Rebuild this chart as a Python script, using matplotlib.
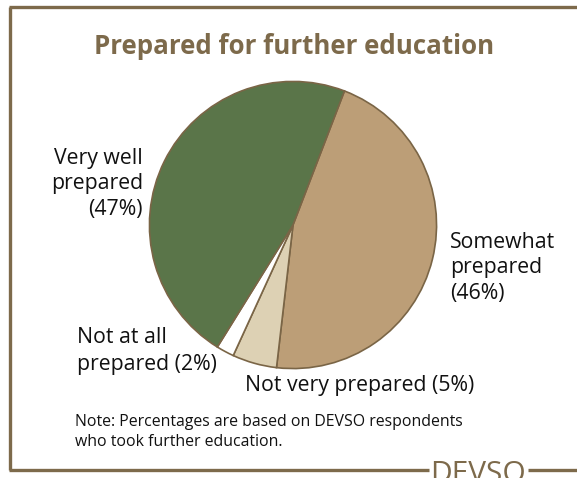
import matplotlib
matplotlib.use('Agg')
import matplotlib.pyplot as plt
from matplotlib.lines import Line2D

W, H = 577, 478

categories = ['Somewhat prepared', 'Not very prepared', 'Not at all prepared', 'Very well prepared']
shares = [46, 5, 2, 47]
slice_colors = ['#bc9e77', '#ddd1b4', '#ffffff', '#5a7549']

BROWN = '#7d6a4b'
EDGE = '#7a6546'
TEXT = '#111111'

plt.rcParams['font.family'] = ['Open Sans', 'DejaVu Sans']


def px(x, y):
    """pixel position (from top-left) -> figure fraction"""
    return x / W, 1 - y / H


fig = plt.figure(figsize=(W / 100, H / 100), dpi=100, facecolor='white')

# pie, centred around (293, 225) px with radius 145 px
cx, cy, r = 293, 225, 145
ax = fig.add_axes([(cx - r) / W, 1 - (cy + r) / H, 2 * r / W, 2 * r / H])
ax.pie(shares, colors=slice_colors, startangle=69, counterclock=False,
       wedgeprops=dict(edgecolor=EDGE, linewidth=1.2))
ax.set_xlim(-1.01, 1.01)
ax.set_ylim(-1.01, 1.01)
ax.set_aspect('equal')
ax.axis('off')

# frame: left, top, bottom split by the logo
lw = 2.4
yb = 470
fig.add_artist(Line2D([px(10, 0)[0], px(10, 0)[0]], [px(0, 7)[1], px(0, yb)[1]],
                      color=BROWN, lw=lw, solid_capstyle='butt'))
fig.add_artist(Line2D([px(9, 0)[0], 1.0], [px(0, 7)[1]] * 2,
                      color=BROWN, lw=lw, solid_capstyle='butt'))
fig.add_artist(Line2D([px(9, 0)[0], px(429, 0)[0]], [px(0, yb)[1]] * 2,
                      color=BROWN, lw=lw, solid_capstyle='butt'))
fig.add_artist(Line2D([px(528, 0)[0], 1.0], [px(0, yb)[1]] * 2,
                      color=BROWN, lw=lw, solid_capstyle='butt'))
fig.text(*px(478, 482), 'DEVSO', color=BROWN, fontsize=21.5,
         ha='center', va='baseline')

fig.text(*px(294, 46), 'Prepared for further education', color=BROWN,
         fontsize=18.6, fontweight='bold', ha='center', va='center')

label_fs = 15.3
fig.text(*px(143, 184), 'Very well\nprepared\n(47%)', fontsize=label_fs,
         color=TEXT, ha='right', va='center', linespacing=1.3)
fig.text(*px(450, 268), 'Somewhat\nprepared\n(46%)', fontsize=label_fs,
         color=TEXT, ha='left', va='center', linespacing=1.3)
fig.text(*px(77, 351), 'Not at all\nprepared (2%)', fontsize=label_fs,
         color=TEXT, ha='left', va='center', linespacing=1.35)
fig.text(*px(245, 386), 'Not very prepared (5%)', fontsize=label_fs,
         color=TEXT, ha='left', va='center')

fig.text(*px(75, 432), 'Note: Percentages are based on DEVSO respondents\n'
         'who took further education.', fontsize=11.4, color=TEXT,
         ha='left', va='center', linespacing=1.3)

fig.savefig('out.png', dpi=100, facecolor='white')
